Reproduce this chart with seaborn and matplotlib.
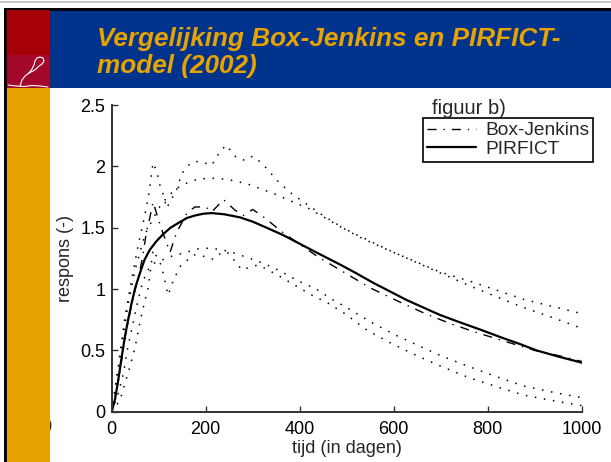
import numpy as np
import pandas as pd
import seaborn as sns
import matplotlib.pyplot as plt
from matplotlib.patches import Rectangle
from matplotlib.lines import Line2D

# --- data (tijd in dagen, respons) ---
t_pirfict = [0, 7, 14, 21, 28, 35, 42, 50, 60, 70, 81, 95, 110, 125, 142, 160, 177, 195, 213, 240, 273,
             300, 330, 365, 400, 440, 486, 520, 557, 590, 628, 660, 698, 740, 784, 833, 870, 904, 950, 1000]
y_pirfict = [0, 0.10, 0.26, 0.44, 0.61, 0.75, 0.88, 1.01, 1.13, 1.24, 1.32, 1.39, 1.45, 1.50, 1.54, 1.58,
             1.60, 1.615, 1.62, 1.61, 1.585, 1.55, 1.50, 1.44, 1.37, 1.29, 1.20, 1.13, 1.05, 0.985, 0.91,
             0.855, 0.79, 0.73, 0.67, 0.60, 0.55, 0.50, 0.45, 0.40]

t_bj = [0, 15, 30, 45, 60, 67, 74, 81, 88, 105, 124, 138, 160, 177, 200, 213, 238, 262, 280, 300, 326,
        358, 376, 440, 493, 550, 610, 667, 723, 777, 840, 900, 965, 1000]
y_bj = [0, 0.27, 0.64, 0.92, 1.15, 1.29, 1.47, 1.58, 1.71, 1.50, 1.30, 1.46, 1.62, 1.67, 1.67, 1.63, 1.73,
        1.645, 1.60, 1.65, 1.58, 1.48, 1.43, 1.26, 1.14, 1.01, 0.90, 0.80, 0.715, 0.645, 0.57, 0.50, 0.445, 0.41]

# upper / lower bands Box-Jenkins (jagged)
t_bj_up = [0, 14, 28, 42, 57, 67, 78, 88, 96, 103, 110, 117, 124, 138, 149, 160, 174, 188, 213, 230, 244,
           255, 266, 284, 300, 312, 326, 351, 379, 408, 450, 500, 535, 599, 649, 698, 766, 876, 1000]
y_bj_up = [0, 0.37, 0.77, 1.07, 1.37, 1.54, 1.75, 2.03, 1.96, 1.84, 1.77, 1.66, 1.71, 1.81, 1.94, 2.0, 2.04,
           2.04, 2.01, 2.12, 2.175, 2.12, 2.07, 2.05, 2.085, 2.05, 2.0, 1.89, 1.79, 1.71, 1.60, 1.48, 1.41,
           1.30, 1.22, 1.14, 1.06, 0.917, 0.80]
t_bj_lo = [0, 18, 28, 39, 50, 57, 64, 71, 78, 88, 106, 120, 132, 148, 177, 199, 216, 230, 245, 259, 277,
           294, 312, 333, 365, 397, 429, 461, 496, 543, 592, 642, 695, 745, 766, 819, 876, 932, 1000]
y_bj_lo = [0, 0.095, 0.23, 0.37, 0.53, 0.67, 0.80, 0.91, 1.02, 1.32, 1.19, 0.95, 1.08, 1.20, 1.28, 1.265,
           1.243, 1.286, 1.305, 1.243, 1.156, 1.18, 1.197, 1.156, 1.088, 1.015, 0.944, 0.884, 0.80, 0.666,
           0.563, 0.47, 0.38, 0.30, 0.27, 0.204, 0.136, 0.095, 0.05]

# upper / lower bands PIRFICT (smooth)
t_pir_up = [0, 21, 35, 50, 71, 100, 120, 142, 165, 188, 223, 252, 287, 323, 351, 386, 418, 450, 486, 550,
            600, 650, 700, 766, 820, 876, 940, 1000]
y_pir_up = [0, 0.53, 0.88, 1.16, 1.45, 1.66, 1.76, 1.83, 1.875, 1.90, 1.905, 1.89, 1.86, 1.81, 1.77, 1.71,
            1.66, 1.59, 1.51, 1.39, 1.30, 1.215, 1.13, 1.02, 0.935, 0.85, 0.765, 0.68]
t_pir_lo = [0, 14, 25, 32, 39, 46, 53, 60, 67, 78, 88, 99, 120, 149, 167, 188, 213, 248, 287, 323, 354, 400,
            433, 465, 497, 550, 599, 652, 702, 752, 819, 876, 940, 1000]
y_pir_lo = [0, 0.15, 0.31, 0.48, 0.61, 0.73, 0.86, 0.97, 1.07, 1.16, 1.21, 1.22, 1.26, 1.29, 1.31, 1.333,
            1.333, 1.31, 1.26, 1.21, 1.156, 1.06, 1.006, 0.925, 0.856, 0.734, 0.634, 0.54, 0.454, 0.38,
            0.285, 0.21, 0.158, 0.114]

x_ticks = [0, 200, 400, 600, 800, 1000]
y_ticks = [0, 0.5, 1, 1.5, 2, 2.5]
y_ticklabels = ["0", "0.5", "1", "1.5", "2", "2.5"]

title_lines = ["Vergelijking Box-Jenkins en PIRFICT-", "model (2002)"]

# --- style ---
sns.set_style("ticks", {"xtick.direction": "in", "ytick.direction": "in"})
plt.rcParams["font.family"] = ["Liberation Sans", "DejaVu Sans"]

W, H = 611, 462
fig = plt.figure(figsize=(W / 100, H / 100), dpi=100)
fig.patch.set_facecolor("white")


def box(x0, y0, x1, y1, color, z=2):
    # rectangle given in pixel coordinates from the top-left corner
    fig.add_artist(Rectangle((x0 / W, 1 - y1 / H), (x1 - x0) / W, (y1 - y0) / H,
                             transform=fig.transFigure, facecolor=color, lw=0, zorder=z))


# slide decoration
box(0, 1, W, 2.5, "#c8c8c8")
box(4, 8, W, 10.5, "black")
box(4, 8, 7, H, "black")
box(50, 10.5, W, 88, "#00348c")
box(7, 10.5, 50, 55, "#a60008")
box(7, 55, 50, 88, "#a3082c")
box(7, 88, 50, H, "#e8a200")

# little white logo (beaver outline)
fig.add_artist(Line2D(np.array([20, 22, 25, 29, 33, 36, 39, 42, 44, 43, 40, 37, 35, 34, 32, 29]) / W,
                      1 - np.array([86, 80, 76, 73, 71, 69, 66, 64, 61, 58, 57, 58, 61, 65, 69, 73]) / H,
                      transform=fig.transFigure, color="white", lw=0.8, zorder=3))
fig.add_artist(Line2D(np.array([8, 16, 24, 32, 40, 48]) / W, 1 - np.array([85, 86, 86.5, 85.5, 86, 87]) / H,
                      transform=fig.transFigure, color="white", lw=0.8, zorder=3))

# partly hidden tick label left over behind the orange bar
fig.text(46 / W, 1 - 428 / H, "0", fontsize=13, ha="center", va="center", zorder=1)

for i, line in enumerate(title_lines):
    fig.text(97 / W, 1 - (46 + 27 * i) / H, line, fontsize=18.8, fontweight="bold",
             fontstyle="italic", color="#e9a300", va="baseline", ha="left", zorder=4)

# --- chart ---
ax = fig.add_axes([111.7 / W, 1 - 411.7 / H, 470 / W, 306.5 / H])
ax.set_facecolor("white")

dots = (0, (1, 5))
for tt, yy in [(t_bj_up, y_bj_up), (t_bj_lo, y_bj_lo), (t_pir_up, y_pir_up), (t_pir_lo, y_pir_lo)]:
    sns.lineplot(x=tt, y=yy, ax=ax, color="black", linewidth=1.1, linestyle=dots,
                 errorbar=None, legend=False)

sns.lineplot(x=t_bj, y=y_bj, ax=ax, color="black", linewidth=1.0,
             linestyle=(0, (6.5, 5, 1, 5)), errorbar=None, label="Box-Jenkins")
sns.lineplot(x=t_pirfict, y=y_pirfict, ax=ax, color="black", linewidth=1.6,
             errorbar=None, label="PIRFICT")

ax.set_xlim(0, 1000)
ax.set_ylim(0, 2.5)
ax.set_xticks(x_ticks)
ax.set_yticks(y_ticks)
ax.set_yticklabels(y_ticklabels)
ax.tick_params(axis="both", direction="in", length=4, width=1, color="#333333",
               labelsize=13, labelcolor="black")
ax.tick_params(axis="x", pad=7)
ax.tick_params(axis="y", pad=4.5)
sns.despine(ax=ax)
for side in ["left", "bottom"]:
    ax.spines[side].set_color("#333333")
    ax.spines[side].set_linewidth(1.4)

ax.set_xlabel("tijd (in dagen)", fontsize=13, labelpad=1)
ax.set_ylabel("respons (-)", fontsize=13, labelpad=5)

# legend box sits at the top right, title written separately above it
handles, labels = ax.get_legend_handles_labels()
leg = ax.legend(handles, labels, loc="upper right", bbox_to_anchor=(593 / W, 1 - 118 / H),
                bbox_transform=fig.transFigure, fontsize=13.8, frameon=True, fancybox=False,
                borderaxespad=0, borderpad=0.2, labelspacing=0.08, handlelength=2.6,
                handletextpad=0.45)
leg.get_frame().set_edgecolor("black")
leg.get_frame().set_linewidth(1.2)
leg.get_frame().set_alpha(1)
fig.text(432 / W, 1 - 114 / H, "figuur b)", fontsize=14.5, ha="left", va="baseline")

fig.savefig("out.png", dpi=100)
